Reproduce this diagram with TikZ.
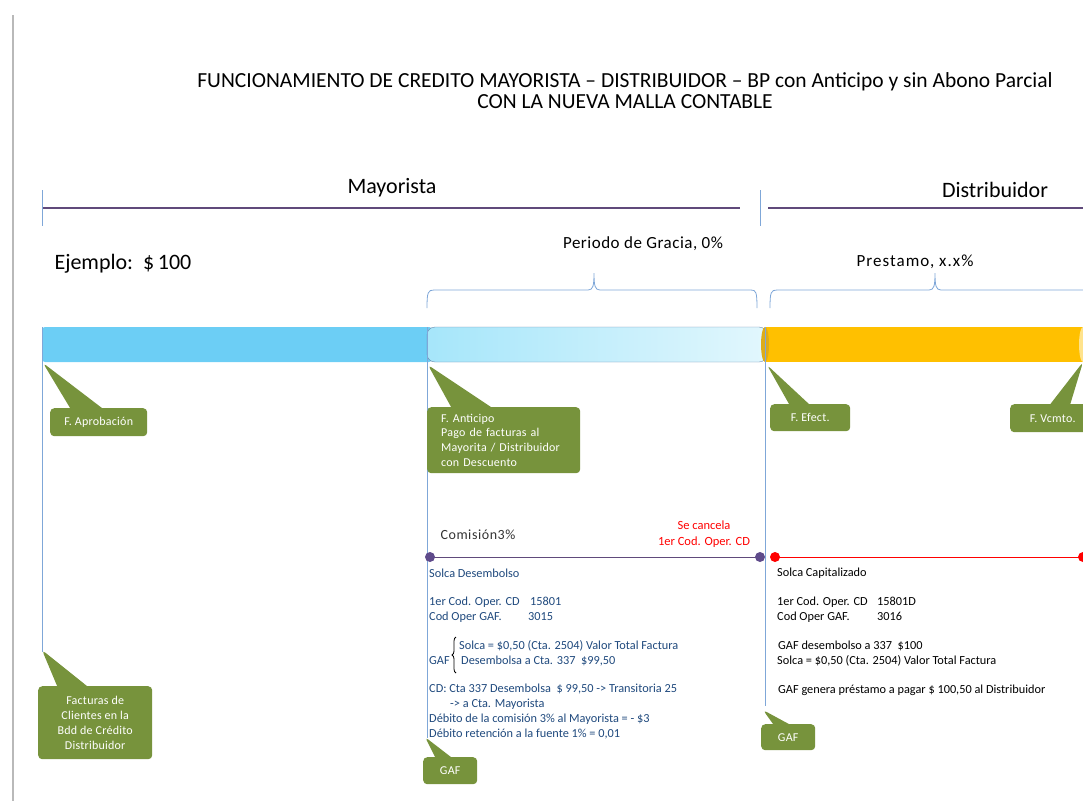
\documentclass[tikz,border=0pt]{standalone}
\usepackage{fontspec}
\setmainfont{Carlito}
\usetikzlibrary{shapes.callouts,decorations.pathreplacing,positioning}
\tikzset{>=latex}
\definecolor{gafgreen}{RGB}{119,147,60}
\definecolor{barblue}{RGB}{108,206,245}
\definecolor{barlight}{RGB}{166,230,250}
\definecolor{barwhite}{RGB}{226,247,253}
\definecolor{baryellow}{RGB}{255,192,0}
\definecolor{linepurple}{RGB}{96,74,123}
\definecolor{dotpurple}{RGB}{95,75,139}
\definecolor{guideblue}{RGB}{127,167,216}
\definecolor{textblue}{RGB}{31,73,125}
\tikzset{
  fecha/.style={rectangle callout, fill=gafgreen, text=white, rounded corners=4pt,
    font=\fontsize{12}{14.8}\selectfont\addfontfeature{LetterSpace=2}, inner sep=3pt, anchor=north west, align=center},
  guia/.style={guideblue, line width=0.8pt},
  linea/.style={anchor=base west, inner sep=0pt, font=\fontsize{12.3}{15}\selectfont},
}
\begin{document}
\begin{tikzpicture}[x=1pt,y=-1pt]
\useasboundingbox (0,0) rectangle (1083,801);
\clip (0,0) rectangle (1083,801);
% margen
\draw[gray!55, line width=2.5pt] (13,15) -- (13,801);
% titulo
\node[align=center, font=\fontsize{21.5}{21}\selectfont] (titulo) at (625,91)
  {FUNCIONAMIENTO DE CREDITO MAYORISTA -- DISTRIBUIDOR -- BP con Anticipo y sin Abono Parcial\\CON LA NUEVA MALLA CONTABLE};
% etapas
\node[font=\fontsize{22}{24}\selectfont] (mayorista) at (392,188) {Mayorista};
\node[font=\fontsize{22}{24}\selectfont] (distribuidor) at (995,190) {Distribuidor};
\coordinate (m0) at (42,208);
\coordinate (m1) at (740,208);
\coordinate (d0) at (768,208);
\coordinate (d1) at (1083,208);
\draw[linepurple, line width=1.5pt] (m0) -- (m1);
\draw[linepurple, line width=1.5pt] (d0) -- (d1);
\draw[guia] (42,190) -- (42,226);
\draw[guia] (760,190) -- (760,226);
\node[anchor=base west, font=\fontsize{22}{24}\selectfont] (ejemplo) at (51,269) {Ejemplo:\ \ \$\,100};
% periodos
\node[font=\fontsize{17}{19}\selectfont\addfontfeature{LetterSpace=3}] (gracia) at (643,244) {Periodo de Gracia, 0\%};
\node[font=\fontsize{17}{19}\selectfont\addfontfeature{LetterSpace=6}] (prestamo) at (915,262) {Prestamo, x.x\%};
\draw[guia] (427,308) .. controls (427,292) and (428,290) .. (434,290) -- (588,290)
  .. controls (593,290) and (594,286) .. (594,273) .. controls (594,286) and (595,290) .. (600,290)
  -- (751,290) .. controls (756,290) and (757,292) .. (757,308);
\draw[guia] (770,308) .. controls (770,292) and (771,290) .. (777,290) -- (929,290)
  .. controls (934,290) and (935,286) .. (935,273) .. controls (935,286) and (936,290) .. (941,290)
  -- (1100,290);
% barra
\fill[barblue, rounded corners=3pt] (42,327) rectangle (432,362);
\shade[left color=barlight, right color=barwhite, draw=guideblue!80!black, rounded corners=8pt] (427,327) rectangle (767,362);
\fill[baryellow] (765,327) rectangle (1090,362);
\fill[baryellow!85!black!90] (765,344.5) ellipse (4 and 17.5);
\fill[baryellow!45] (1083,344.5) ellipse (4 and 17.5);
% lineas guia
\draw[guia] (42,327) -- (42,652);
\draw[guia] (427,327) -- (427,738);
\draw[guia] (765,327) -- (765,706);
% fechas
\node[fecha, minimum width=97pt, minimum height=28pt, callout pointer width=32pt,
  callout absolute pointer={(43,363)}] (aprobacion) at (50,408) {F. Aprobación};
\node[fecha, minimum width=153pt, minimum height=66pt, text width=125pt, align=left,
  callout pointer width=40pt, callout absolute pointer={(428,365)}] (anticipo) at (427,407)
  {F. Anticipo\\Pago de facturas al\\Mayorita / Distribuidor\\con Descuento};
\node[fecha, minimum width=80pt, minimum height=27pt, callout pointer width=20pt,
  callout absolute pointer={(767,365)}] (efect) at (770,404) {F. Efect.};
\node[fecha, minimum width=85pt, minimum height=28pt, callout pointer width=20pt,
  callout absolute pointer={(1083,362)}] (vcmto) at (1010,404) {F. Vcmto.};
\node[fecha, minimum width=114pt, minimum height=73pt, callout pointer width=30pt,
  callout absolute pointer={(42,650)}] (facturas) at (38,686)
  {Facturas de\\Clientes en la\\Bdd de Crédito\\Distribuidor};
\node[fecha, minimum width=54pt, minimum height=27pt, callout pointer width=16pt,
  callout absolute pointer={(425,737)}] (gafa) at (423,757) {GAF};
\node[fecha, minimum width=54pt, minimum height=26pt, callout pointer width=16pt,
  callout absolute pointer={(763,710)}] (gafb) at (761,724) {GAF};
% comision
\node[anchor=base west, font=\fontsize{14}{16}\selectfont\addfontfeature{LetterSpace=4}, text=black!80] (comision) at (437,539) {Comisión3\%};
\node[align=center, text=red, font=\fontsize{12.5}{16}\selectfont] (cancela) at (704,534) {Se cancela\\1er Cod. Oper. CD};
\coordinate (c0) at (430,557);
\coordinate (c1) at (760,557);
\coordinate (r0) at (775,557);
\coordinate (r1) at (1083,557);
\draw[linepurple, line width=1pt] (c0) -- (c1);
\fill[dotpurple] (c0) circle (5);
\fill[dotpurple] (c1) circle (5);
\draw[red, line width=1pt] (r0) -- (r1);
\fill[red] (r0) circle (5);
\fill[red] (r1) circle (5);
% movimientos mayorista
\begin{scope}[every node/.style={linea, text=textblue}]
\node (ma) at (429,577) {Solca Desembolso};
\node (mb) at (429,605) {1er Cod. Oper. CD};
\node (mb2) at (530,605) {15801};
\node (mc) at (429,620) {Cod Oper GAF.};
\node (md) at (528,620) {3015};
\node (me) at (459,649) {Solca = \$0,50 (Cta. 2504) Valor Total Factura};
\node (mf) at (429,664) {GAF};
\node (mg) at (461,664) {Desembolsa a Cta. 337\ \ \$99,50};
\node (mh) at (429,692) {CD: Cta 337 Desembolsa\ \ \$ 99,50 -> Transitoria 25};
\node (mi) at (450,707) {-> a Cta. Mayorista};
\node (mj) at (429,722) {Débito de la comisión 3\% al Mayorista = - \$3};
\node (mk) at (429,737) {Débito retención a la fuente 1\% = 0,01};
\end{scope}
\draw[black, line width=0.8pt, decorate, decoration={brace, amplitude=4pt}] (456,673) -- (456,637);
% movimientos distribuidor
\begin{scope}[every node/.style={linea, text=black}]
\node (da) at (777,576) {Solca Capitalizado};
\node (db) at (777,605) {1er Cod. Oper. CD};
\node (db2) at (877,605) {15801D};
\node (dc) at (777,620) {Cod Oper GAF.};
\node (dd) at (877,620) {3016};
\node (de) at (778,649) {GAF desembolso a 337\ \ \$100};
\node (df) at (777,664) {Solca = \$0,50 (Cta. 2504) Valor Total Factura};
\node (dg) at (778,693) {GAF genera préstamo a pagar \$ 100,50 al Distribuidor};
\end{scope}
\end{tikzpicture}
\end{document}
